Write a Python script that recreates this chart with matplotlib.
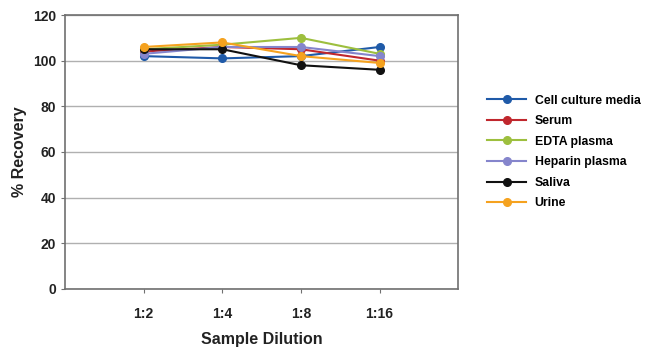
import matplotlib
matplotlib.use("Agg")
import matplotlib.pyplot as plt
import numpy as np

plt.rcParams['font.family'] = ['Liberation Sans', 'DejaVu Sans']
plt.rcParams['font.weight'] = 'bold'

dilutions = ['1:2', '1:4', '1:8', '1:16']
cell_culture = [102, 101, 102, 106]
serum = [104, 106, 105, 100]
edta = [105, 107, 110, 103]
heparin = [103, 106, 106, 102]
saliva = [105, 105, 98, 96]
urine = [106, 108, 102, 99]

series = [
    ('Cell culture media', cell_culture, '#1f5aa8'),
    ('Serum', serum, '#c0272d'),
    ('EDTA plasma', edta, '#9dbf3e'),
    ('Heparin plasma', heparin, '#8585cc'),
    ('Saliva', saliva, '#111111'),
    ('Urine', urine, '#f5a21f'),
]

fig = plt.figure(figsize=(6.5, 3.58), dpi=100)
ax = fig.add_axes([0.1, 0.193, 0.605, 0.765])

x = np.arange(1, len(dilutions) + 1)
for name, vals, col in series:
    ax.plot(x, vals, color=col, lw=1.5, marker='o', ms=5.5, label=name)

ax.set_xlim(0, 5)
ax.set_ylim(0, 120)
ax.set_yticks(range(0, 121, 20))
ax.set_xticks(x)
ax.set_xticklabels(dilutions)
ax.yaxis.grid(True, color='#b0b0b0', lw=1)
ax.set_axisbelow(True)
for s in ax.spines.values():
    s.set_color('#707070')
    s.set_linewidth(1.2)
ax.tick_params(axis='both', colors='#707070', labelcolor='#222222', labelsize=10, length=3)
ax.tick_params(axis='x', pad=10)

ax.set_xlabel('Sample Dilution', fontsize=11.5, labelpad=8, color='#222222', fontweight='bold')
ax.set_ylabel('% Recovery', fontsize=11.5, labelpad=4, color='#222222', fontweight='bold')

ax.legend(loc='center left', bbox_to_anchor=(1.045, 0.5), frameon=False,
          prop={'size': 8.8, 'weight': 'bold'}, handlelength=3.2,
          labelspacing=0.7, handletextpad=0.7)

fig.savefig('out.png', dpi=100)
